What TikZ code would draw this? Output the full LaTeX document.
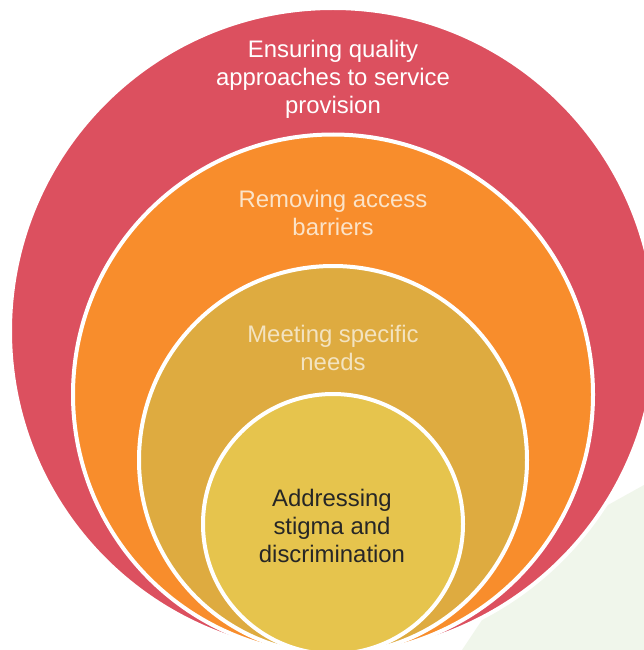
\documentclass[tikz,border=0pt]{standalone}
\usepackage{fontspec}
\setmainfont{Liberation Sans}
\definecolor{cred}{HTML}{DC505F}
\definecolor{corange}{HTML}{F88D2C}
\definecolor{cgold}{HTML}{DEAB40}
\definecolor{cyellow}{HTML}{E6C44D}
\definecolor{cgreen}{HTML}{F0F6EB}
\definecolor{cpale}{HTML}{F3E3C0}
\definecolor{cpeach}{HTML}{FBE3C8}
\definecolor{cink}{HTML}{262626}
\tikzset{
  ring/.style={circle,draw=white,line width=4pt,inner sep=0pt,outer sep=0pt},
  lab/.style={align=center,font=\fontsize{23.9}{28.3}\selectfont,inner sep=0pt},
}
\begin{document}
\begin{tikzpicture}[x=1pt,y=-1pt]
\useasboundingbox (0,0) rectangle (644,650);
\clip (0,0) rectangle (644,650);
\fill[white] (0,0) rectangle (644,650);
\fill[cgreen] (644,485) -- (608,505) -- (482,620) -- (462,650) -- (644,650) -- cycle;
\node[ring,fill=cred,minimum size=646pt] (c1) at (333,331) {};
\node[ring,fill=corange,minimum size=520pt] (c2) at (333,394.5) {};
\node[ring,fill=cgold,minimum size=388pt] (c3) at (333,460) {};
\node[ring,fill=cyellow,minimum size=260pt] (c4) at (333,524) {};
\node[lab,text=white] (t1) at (333,79.5) {Ensuring quality\\approaches to service\\provision};
\node[lab,text=cpeach] (t2) at (333,213) {Removing access\\barriers};
\node[lab,text=cpale] (t3) at (333,348) {Meeting specific\\needs};
\node[lab,text=cink] (t4) at (332,526) {Addressing\\stigma and\\discrimination};
\end{tikzpicture}
\end{document}
